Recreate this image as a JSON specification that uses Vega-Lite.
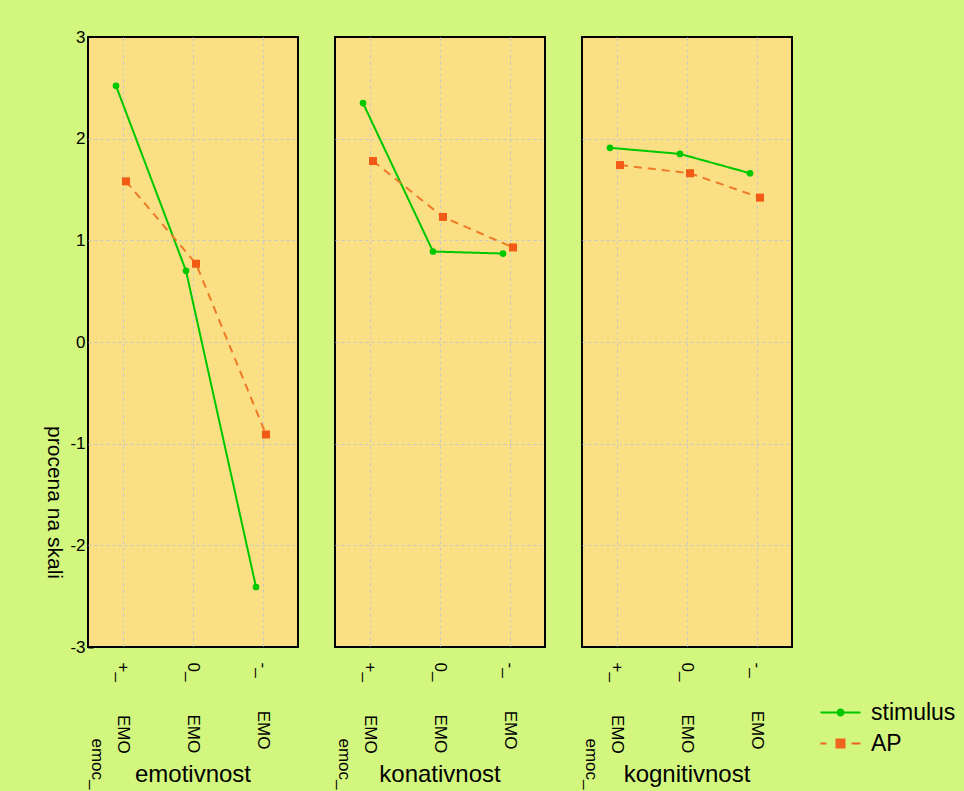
{
  "$schema": "https://vega.github.io/schema/vega-lite/v6.json",
  "background": "#d3f77e",
  "padding": {"left": 43, "top": 28, "right": 30, "bottom": 10},
  "bounds": "flush",
  "spacing": 37,
  "data": {
    "values": [
      {"dim": "emotivnost", "cat": "EMO_+", "series": "stimulus", "value": 2.52},
      {"dim": "emotivnost", "cat": "EMO_0", "series": "stimulus", "value": 0.70},
      {"dim": "emotivnost", "cat": "EMO_-", "series": "stimulus", "value": -2.41},
      {"dim": "emotivnost", "cat": "EMO_+", "series": "AP", "value": 1.58},
      {"dim": "emotivnost", "cat": "EMO_0", "series": "AP", "value": 0.77},
      {"dim": "emotivnost", "cat": "EMO_-", "series": "AP", "value": -0.91},
      {"dim": "konativnost", "cat": "EMO_+", "series": "stimulus", "value": 2.35},
      {"dim": "konativnost", "cat": "EMO_0", "series": "stimulus", "value": 0.89},
      {"dim": "konativnost", "cat": "EMO_-", "series": "stimulus", "value": 0.87},
      {"dim": "konativnost", "cat": "EMO_+", "series": "AP", "value": 1.78},
      {"dim": "konativnost", "cat": "EMO_0", "series": "AP", "value": 1.23},
      {"dim": "konativnost", "cat": "EMO_-", "series": "AP", "value": 0.93},
      {"dim": "kognitivnost", "cat": "EMO_+", "series": "stimulus", "value": 1.91},
      {"dim": "kognitivnost", "cat": "EMO_0", "series": "stimulus", "value": 1.85},
      {"dim": "kognitivnost", "cat": "EMO_-", "series": "stimulus", "value": 1.66},
      {"dim": "kognitivnost", "cat": "EMO_+", "series": "AP", "value": 1.74},
      {"dim": "kognitivnost", "cat": "EMO_0", "series": "AP", "value": 1.66},
      {"dim": "kognitivnost", "cat": "EMO_-", "series": "AP", "value": 1.42}
    ]
  },
  "facet": {
    "column": {
      "field": "dim",
      "type": "nominal",
      "sort": ["emotivnost", "konativnost", "kognitivnost"],
      "title": null,
      "header": {
        "labelOrient": "bottom",
        "labelFont": "Liberation Sans",
        "labelFontSize": 24,
        "labelColor": "#000000",
        "labelPadding": -26
      }
    }
  },
  "spec": {
    "width": 210,
    "height": 610,
    "encoding": {
      "x": {
        "field": "cat",
        "type": "nominal",
        "sort": ["EMO_+", "EMO_0", "EMO_-"],
        "scale": {"paddingInner": 0, "paddingOuter": 0},
        "axis": {
          "title": "emoc_",
          "titleAngle": 90,
          "titleAlign": "left",
          "titleBaseline": "middle",
          "titleX": 8,
          "titleY": 91,
          "titleFont": "Liberation Sans",
          "titleFontSize": 17,
          "titleFontWeight": "normal",
          "titleColor": "#000000",
          "labelAngle": 90,
          "labelAlign": "left",
          "labelBaseline": "middle",
          "labelFont": "Liberation Sans",
          "labelFontSize": 17,
          "labelColor": "#000000",
          "labelPadding": 20,
          "labelExpr": "split(datum.label, '_')[1] + '_\u00a0\u00a0\u00a0\u00a0\u00a0\u00a0\u00a0' + split(datum.label, '_')[0]",
          "domain": false,
          "ticks": true,
          "tickSize": -5,
          "tickWidth": 2,
          "tickColor": "#000000",
          "grid": true,
          "gridColor": "#c8c8c8",
          "gridDash": [3, 3],
          "gridWidth": 1
        }
      },
      "xOffset": {
        "field": "series",
        "type": "nominal",
        "scale": {"type": "point", "padding": 0, "domain": ["stimulus", "AP"], "range": [28, 38]}
      },
      "y": {
        "field": "value",
        "type": "quantitative",
        "scale": {"domain": [-3, 3], "nice": false, "zero": false},
        "axis": {
          "values": [-3, -2, -1, 0, 1, 2, 3],
          "labelExpr": "'' + datum.value",
          "labelFont": "Liberation Sans",
          "labelFontSize": 17,
          "labelColor": "#000000",
          "labelPadding": 8,
          "title": "procena na skali",
          "titleAngle": 90,
          "titleAlign": "center",
          "titleBaseline": "middle",
          "titleX": -35,
          "titleY": 465,
          "titleFont": "Liberation Sans",
          "titleFontSize": 21,
          "titleFontWeight": "normal",
          "titleColor": "#000000",
          "domain": false,
          "tickSize": -5,
          "tickWidth": 2,
          "tickColor": "#000000",
          "grid": true,
          "gridColor": "#c8c8c8",
          "gridDash": [3, 3],
          "gridWidth": 1,
          "gridOpacity": {"condition": {"test": "abs(datum.value) === 3", "value": 0}, "value": 1}
        }
      }
    },
    "layer": [
      {
        "mark": {"type": "line", "strokeWidth": 2},
        "encoding": {
          "stroke": {
            "field": "series",
            "type": "nominal",
            "scale": {"domain": ["stimulus", "AP"], "range": ["#00c800", "#ee7a28"]},
            "legend": {
              "orient": "none",
              "legendX": 741,
              "legendY": 664,
              "title": null,
              "labelFont": "Liberation Sans",
              "labelFontSize": 23,
              "labelColor": "#000000",
              "labelOffset": 19,
              "rowPadding": 7,
              "symbolSize": 400,
              "symbolStrokeWidth": 0,
              "encode": {
                "symbols": {
                  "update": {
                    "shape": {"signal": "datum.value === 'AP' ? 'M-2,-0.1L-1.4,-0.1L-1.4,0.1L-2,0.1Z M1.1,-0.1L2,-0.1L2,0.1L1.1,0.1Z M-0.5,-0.5L0.5,-0.5L0.5,0.5L-0.5,0.5Z' : 'M-2,-0.1L-0.38,-0.1L-0.38,0.1L-2,0.1Z M0.38,-0.1L2,-0.1L2,0.1L0.38,0.1Z M-0.4,0A0.4,0.4,0,1,1,0.4,0A0.4,0.4,0,1,1,-0.4,0Z'"},
                    "fill": {"signal": "datum.value === 'AP' ? '#f06420' : '#00c800'"},
                    "fillOpacity": {"value": 1},
                    "strokeWidth": {"value": 0},
                    "size": {"value": 400},
                    "opacity": {"value": 1}
                  }
                }
              }
            }
          },
          "strokeDash": {
            "field": "series",
            "type": "nominal",
            "scale": {"domain": ["stimulus", "AP"], "range": [[1, 0], [8, 6]]},
            "legend": null
          },
          "order": {"value": null}
        }
      },
      {
        "transform": [{"filter": "datum.series === 'stimulus'"}],
        "mark": {"type": "point", "shape": "circle", "filled": true, "opacity": 1, "color": "#00c800", "size": 45}
      },
      {
        "transform": [{"filter": "datum.series === 'AP'"}],
        "mark": {"type": "point", "shape": "square", "filled": true, "opacity": 1, "color": "#f25a16", "size": 64}
      }
    ]
  },
  "config": {
    "view": {"fill": "#fadf84", "stroke": "#000000", "strokeWidth": 2},
    "font": "Liberation Sans"
  }
}
